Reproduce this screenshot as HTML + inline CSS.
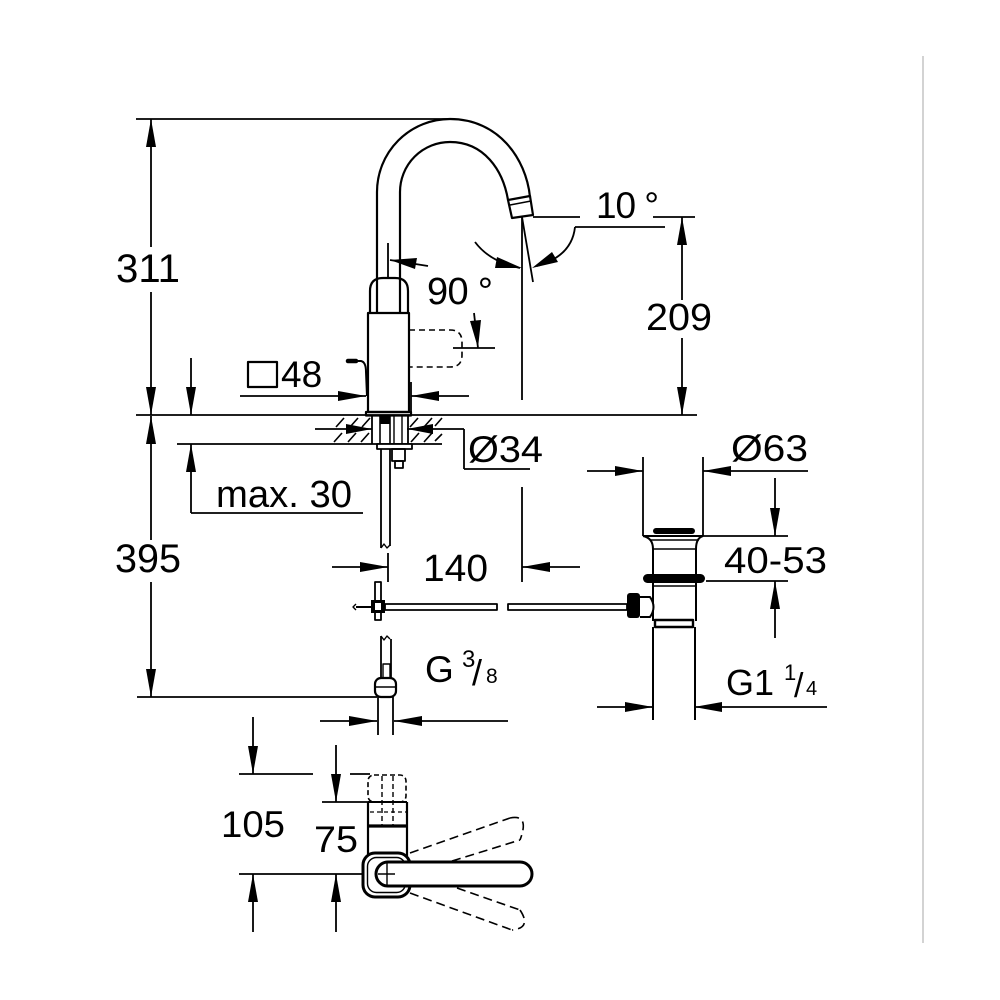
<!DOCTYPE html>
<html>
<head>
<meta charset="utf-8">
<style>
html,body{margin:0;padding:0;background:#fff;}
svg{display:block;}
text{font-family:"Liberation Sans",Arial,sans-serif;fill:#000;}
</style>
</head>
<body>
<svg width="1000" height="1000" viewBox="0 0 1000 1000" xmlns="http://www.w3.org/2000/svg">
<rect width="1000" height="1000" fill="#fff"/>

<!-- right gray separator -->
<line x1="923" y1="56" x2="923" y2="943" stroke="#c8c8c8" stroke-width="1.6"/>

<g stroke="#000" fill="none" stroke-width="1.8">
  <!-- top reference line -->
  <line x1="136" y1="119" x2="452" y2="119"/>
  <!-- 311 dim -->
  <line x1="151" y1="119" x2="151" y2="247"/>
  <line x1="151" y1="292" x2="151" y2="415"/>
  <!-- baseline (counter top) -->
  <line x1="136" y1="415" x2="697" y2="415"/>
  <!-- small arrow line x=191 -->
  <line x1="191" y1="358" x2="191" y2="415"/>

  <!-- 48 dims -->
  <line x1="240" y1="396" x2="366" y2="396"/>
  <line x1="411" y1="396" x2="469" y2="396"/>
  <line x1="411" y1="382" x2="411" y2="412"/>

  <!-- 90 deg -->
  <line x1="388" y1="243" x2="388" y2="278"/>
  <line x1="390" y1="260" x2="428" y2="266"/>
  <line x1="453" y1="348" x2="495" y2="348"/>
  <line x1="474" y1="313" x2="478" y2="348"/>

  <!-- 10 deg -->
  <line x1="533" y1="217" x2="580" y2="217"/>
  <line x1="653" y1="217" x2="695" y2="217"/>
  <line x1="575" y1="227" x2="665" y2="227"/>
  <path d="M575,227 Q572,256 537,266"/>
  <path d="M475,242 Q490,262 520,268"/>
  <line x1="522" y1="217" x2="522" y2="400"/>
  <line x1="522" y1="217" x2="533" y2="282"/>

  <!-- 209 -->
  <line x1="682" y1="217" x2="682" y2="300"/>
  <line x1="682" y1="338" x2="682" y2="415"/>

  <!-- counter bottom line -->
  <line x1="177" y1="444" x2="442" y2="444"/>

  <!-- Ø34 -->
  <line x1="315" y1="429" x2="372" y2="429"/>
  <line x1="407" y1="429" x2="464" y2="429"/>
  <line x1="464" y1="429" x2="464" y2="469"/>
  <line x1="464" y1="469" x2="530" y2="469"/>

  <!-- max.30 -->
  <line x1="191" y1="444" x2="191" y2="513"/>
  <line x1="191" y1="513" x2="363" y2="513"/>

  <!-- 395 -->
  <line x1="151" y1="416" x2="151" y2="540"/>
  <line x1="151" y1="582" x2="151" y2="697"/>
  <line x1="137" y1="697" x2="377" y2="697"/>

  <!-- 140 -->
  <line x1="332" y1="567" x2="388" y2="567"/>
  <line x1="388" y1="553" x2="388" y2="582"/>
  <line x1="522" y1="487" x2="522" y2="582"/>
  <line x1="522" y1="567" x2="580" y2="567"/>

  <!-- G3/8 dim -->
  <line x1="320" y1="721" x2="377" y2="721"/>
  <line x1="394" y1="721" x2="508" y2="721"/>
  <line x1="378" y1="697" x2="378" y2="735"/>
  <line x1="393" y1="697" x2="393" y2="735"/>

  <!-- Ø63 -->
  <line x1="643" y1="457" x2="643" y2="536"/>
  <line x1="703" y1="457" x2="703" y2="536"/>
  <line x1="587" y1="471" x2="643" y2="471"/>
  <line x1="703" y1="471" x2="808" y2="471"/>

  <!-- 40-53 -->
  <line x1="703" y1="536" x2="788" y2="536"/>
  <line x1="706" y1="581" x2="788" y2="581"/>
  <line x1="775" y1="478" x2="775" y2="536"/>
  <line x1="775" y1="581" x2="775" y2="638"/>

  <!-- G1 1/4 -->
  <line x1="597" y1="707" x2="653" y2="707"/>
  <line x1="694" y1="707" x2="827" y2="707"/>

  <!-- 105 / 75 -->
  <line x1="253" y1="717" x2="253" y2="774"/>
  <line x1="239" y1="774" x2="313" y2="774"/>
  <line x1="350" y1="774" x2="370" y2="774"/>
  <line x1="253" y1="874" x2="253" y2="932"/>
  <line x1="239" y1="874" x2="395" y2="874"/>
  <line x1="336" y1="745" x2="336" y2="802"/>
  <line x1="322" y1="802" x2="368" y2="802"/>
  <line x1="336" y1="874" x2="336" y2="932"/>
</g>

<!-- arrowheads -->
<g fill="#000" stroke="none">
  <polygon points="151,119 146,147 156,147"/>
  <polygon points="151,415 146,387 156,387"/>
  <polygon points="191,415 186,387 196,387"/>
  <polygon points="366,396 338,391 338,401"/>
  <polygon points="411,396 439,391 439,401"/>
  <polygon points="390,260 417,258 415,269"/>
  <polygon points="478,348 470,321 481,320"/>
  <polygon points="532,268 552,252 558,262"/>
  <polygon points="522,268 497,257 495,268"/>
  <polygon points="682,217 677,245 687,245"/>
  <polygon points="682,415 677,387 687,387"/>
  <polygon points="372,429 346,424 346,434"/>
  <polygon points="407,429 433,424 433,434"/>
  <polygon points="191,444 186,472 196,472"/>
  <polygon points="151,416 146,444 156,444"/>
  <polygon points="151,697 146,669 156,669"/>
  <polygon points="388,567 360,562 360,572"/>
  <polygon points="522,567 550,562 550,572"/>
  <polygon points="377,721 349,716 349,726"/>
  <polygon points="394,721 422,716 422,726"/>
  <polygon points="643,471 615,466 615,476"/>
  <polygon points="703,471 731,466 731,476"/>
  <polygon points="775,536 770,508 780,508"/>
  <polygon points="775,581 770,609 780,609"/>
  <polygon points="653,707 625,702 625,712"/>
  <polygon points="694,707 722,702 722,712"/>
  <polygon points="253,774 248,746 258,746"/>
  <polygon points="253,874 248,902 258,902"/>
  <polygon points="336,802 331,774 341,774"/>
  <polygon points="336,874 331,902 341,902"/>
</g>

<!-- faucet drawing -->
<g stroke="#000" fill="none" stroke-width="2.2" stroke-linejoin="round">
  <!-- spout outer/inner -->
  <path d="M377,313 L377,192 A73,73 0 0 1 450,119 C498,119 526,158 530,197"/>
  <path d="M400,313 L400,192 A50,50 0 0 1 450,142 C484,142 503,170 508,200"/>
  <!-- spout tip -->
  <polygon points="508,200 530,196 533,215 512,218"/>
  <line x1="510" y1="205" x2="531" y2="201" stroke-width="1.4"/>
  <!-- upper rounded body -->
  <path d="M370,313 L370,291 Q370,278 383,278 L395,278 Q408,278 408,291 L408,313"/>
  <!-- main body -->
  <rect x="368" y="313" width="41" height="99" fill="#fff"/>
  <rect x="366" y="412" width="45" height="3.5"/>
  <!-- dashed handle -->
  <path d="M409,330 L450,330 Q462,330 462,342 L462,355 Q462,367 450,367 L409,367" stroke-width="1.6" stroke-dasharray="6,4"/>
  <!-- small lever -->
  <path d="M350,361 L361,361 Q366,362 366,372 L367,396" stroke-width="2"/>
  <line x1="348" y1="361" x2="356" y2="361" stroke-width="4.5" stroke-linecap="round"/>
  <!-- square 48 -->
  <rect x="248" y="362" width="29" height="25" stroke-width="2.2"/>

  <!-- shank in counter -->
  <line x1="372" y1="415" x2="372" y2="444" stroke-width="1.8"/>
  <line x1="408" y1="415" x2="408" y2="444" stroke-width="1.8"/>
  <line x1="380" y1="415" x2="380" y2="449" stroke-width="1.6"/>
  <line x1="390" y1="415" x2="390" y2="444" stroke-width="1.6"/>
  <line x1="394" y1="415" x2="394" y2="444" stroke-width="1.4"/>
  <line x1="402" y1="415" x2="402" y2="444" stroke-width="1.4"/>
  <rect x="380" y="416" width="10" height="8" fill="#000" stroke="none"/>
  <!-- washer and nut -->
  <rect x="377" y="444" width="35" height="5" stroke-width="1.8" fill="#fff"/>
  <rect x="392" y="449" width="13" height="12" stroke-width="1.8"/>
  <rect x="395" y="461" width="8" height="7" stroke-width="1.8"/>
  <!-- hose upper -->
  <line x1="381" y1="449" x2="381" y2="548" stroke-width="1.8"/>
  <line x1="390" y1="449" x2="390" y2="546" stroke-width="1.8"/>
  <path d="M381,548 L384,544 L387,548 L390,545" stroke-width="1.4"/>

  <!-- cross fitting -->
  <rect x="375" y="582" width="6" height="38" stroke-width="1.8" fill="#fff"/>
  <rect x="385" y="604" width="112" height="6" stroke-width="1.8" fill="#fff"/>
  <rect x="508" y="604" width="119" height="6" stroke-width="1.8" fill="#fff"/>
  <line x1="356" y1="607" x2="374" y2="607" stroke-width="2"/>
  <path d="M356,604 L353,607 L356,610" stroke-width="1.4"/>
  <rect x="371" y="600" width="14" height="13" fill="#000" stroke="none"/>
  <rect x="375" y="603" width="6" height="7" fill="#fff" stroke="none"/>

  <!-- hose lower -->
  <path d="M381,636 L384,640 L387,636 L390,639" stroke-width="1.4"/>
  <line x1="381" y1="636" x2="381" y2="678" stroke-width="1.8"/>
  <line x1="391" y1="639" x2="391" y2="678" stroke-width="1.8"/>
  <rect x="383" y="664" width="7" height="14" stroke-width="1.4"/>
  <rect x="375" y="678" width="21" height="19" rx="6" stroke-width="2.2" fill="#fff"/>
  <line x1="375" y1="687" x2="396" y2="687" stroke-width="1.4"/>

  <!-- drain -->
  <rect x="653" y="528" width="42" height="6" rx="3" fill="#000" stroke="none"/>
  <line x1="643" y1="536" x2="703" y2="536" stroke-width="2"/>
  <path d="M643,536 Q653,538 653,549" stroke-width="2"/>
  <path d="M703,536 Q696,538 696,549" stroke-width="2"/>
  <line x1="650" y1="540" x2="699" y2="540" stroke-width="1.4"/>
  <line x1="653" y1="549" x2="696" y2="549" stroke-width="1.6"/>
  <line x1="653" y1="549" x2="653" y2="575" stroke-width="2"/>
  <line x1="696" y1="549" x2="696" y2="575" stroke-width="2"/>
  <rect x="643" y="574" width="62" height="9" rx="4.5" fill="#000" stroke="none"/>
  <line x1="653" y1="586" x2="696" y2="586" stroke-width="1.6"/>
  <line x1="653" y1="583" x2="653" y2="621" stroke-width="2"/>
  <line x1="696" y1="583" x2="696" y2="621" stroke-width="2"/>
  <rect x="627" y="593" width="13" height="25" rx="3" fill="#000" stroke="none"/>
  <path d="M640,597 L650,597 Q657,607 650,617 L640,617" stroke-width="2" fill="#fff"/>
  <rect x="655" y="620" width="38" height="7" stroke-width="2.4" fill="#fff"/>
  <line x1="653" y1="627" x2="653" y2="720" stroke-width="2"/>
  <line x1="695" y1="627" x2="695" y2="720" stroke-width="2"/>

  <!-- bottom view -->
  <rect x="368" y="775" width="38" height="27" rx="6" stroke-width="1.6" stroke-dasharray="5,3"/>
  <line x1="382" y1="776" x2="382" y2="826" stroke-width="1.4" stroke-dasharray="5,3"/>
  <line x1="393" y1="776" x2="393" y2="826" stroke-width="1.4" stroke-dasharray="5,3"/>
  <line x1="370" y1="812" x2="406" y2="812" stroke-width="1.2" stroke-dasharray="4,3"/>
  <line x1="368" y1="802" x2="407" y2="802" stroke-width="2"/>
  <line x1="368" y1="802" x2="368" y2="856" stroke-width="2.2"/>
  <line x1="407" y1="802" x2="407" y2="856" stroke-width="2.2"/>
  <line x1="368" y1="826" x2="407" y2="826" stroke-width="3.2"/>
  <!-- dashed alternate levers -->
  <g stroke-width="1.6" stroke-dasharray="9,5">
    <line x1="410" y1="853" x2="510" y2="818"/>
    <line x1="452" y1="861" x2="520" y2="840"/>
    <path d="M510,818 Q530,814 520,840"/>
    <line x1="457" y1="888" x2="520" y2="910"/>
    <line x1="410" y1="893" x2="512" y2="930"/>
    <path d="M520,910 Q532,928 512,930"/>
  </g>
  <rect x="363" y="853" width="47" height="44" rx="12" stroke-width="3" fill="#fff"/>
  <rect x="367.5" y="857.5" width="38" height="35" rx="9" stroke-width="1.4"/>
  <rect x="376" y="862" width="156" height="24" rx="12" stroke-width="3" fill="#fff"/>
  <line x1="387" y1="863" x2="387" y2="885" stroke-width="1.4"/>
  <line x1="378" y1="874" x2="395" y2="874" stroke-width="1.4"/>
</g>

<!-- hatching -->
<g stroke="#000" stroke-width="1.6">
  <line x1="336" y1="427" x2="344" y2="418"/>
  <line x1="350" y1="427" x2="358" y2="418"/>
  <line x1="362" y1="427" x2="370" y2="418"/>
  <line x1="334" y1="442" x2="342" y2="433"/>
  <line x1="348" y1="442" x2="356" y2="433"/>
  <line x1="361" y1="442" x2="369" y2="433"/>
  <line x1="410" y1="427" x2="418" y2="418"/>
  <line x1="424" y1="427" x2="432" y2="418"/>
  <line x1="435" y1="426" x2="442" y2="418"/>
  <line x1="411" y1="442" x2="419" y2="433"/>
  <line x1="424" y1="442" x2="432" y2="433"/>
  <line x1="435" y1="441" x2="442" y2="434"/>
</g>

<!-- texts -->
<g font-size="38">
  <text x="116" y="282" font-size="40" textLength="64" lengthAdjust="spacingAndGlyphs">311</text>
  <text x="427" y="304" textLength="66" lengthAdjust="spacing">90 °</text>
  <text x="596" y="218" font-size="37" textLength="63" lengthAdjust="spacing">10 °</text>
  <text x="646" y="330" textLength="66" lengthAdjust="spacingAndGlyphs">209</text>
  <text x="281" y="387" font-size="37">48</text>
  <text x="468" y="462" font-size="37" textLength="75" lengthAdjust="spacingAndGlyphs">Ø34</text>
  <text x="216" y="507" textLength="136" lengthAdjust="spacingAndGlyphs">max. 30</text>
  <text x="115" y="572" font-size="40" textLength="66" lengthAdjust="spacingAndGlyphs">395</text>
  <text x="423" y="581" textLength="65" lengthAdjust="spacingAndGlyphs">140</text>
  <text x="731" y="461" font-size="37" textLength="77" lengthAdjust="spacingAndGlyphs">Ø63</text>
  <text x="724" y="573" font-size="37" textLength="103" lengthAdjust="spacingAndGlyphs">40-53</text>
  <text x="425" y="682" font-size="37">G</text>
  <text x="462" y="667" font-size="24">3</text>
  <text x="472" y="685" font-size="36">/</text>
  <text x="486" y="683" font-size="21">8</text>
  <text x="726" y="695" font-size="36">G1</text>
  <text x="784" y="680" font-size="22">1</text>
  <text x="794" y="697" font-size="34">/</text>
  <text x="806" y="695" font-size="20">4</text>
  <text x="221" y="837" font-size="37" textLength="64" lengthAdjust="spacingAndGlyphs">105</text>
  <text x="314" y="852" font-size="37" textLength="44" lengthAdjust="spacingAndGlyphs">75</text>
</g>
</svg>
</body>
</html>
